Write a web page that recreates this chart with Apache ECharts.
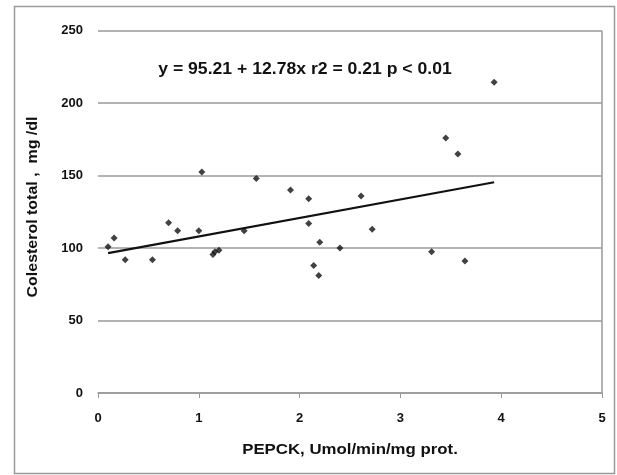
<!DOCTYPE html>
<html><head><meta charset="utf-8">
<script src="https://cdn.jsdelivr.net/npm/echarts@6/dist/echarts.min.js"></script>
<style>html,body{margin:0;padding:0;background:#fff}#c{width:617px;height:475px}</style>
</head><body><div id="c"></div>
<script>
var pepckX = [0.10,0.16,0.27,0.54,0.70,0.79,1.00,1.03,1.14,1.16,1.20,1.45,1.57,1.91,2.09,2.09,2.14,2.19,2.20,2.40,2.61,2.72,3.31,3.45,3.57,3.64,3.93];
var cholY  = [101,107,92,92,117.5,112,112,152.5,95.5,97.5,98.5,112,148,140,134,117,88,81,104,100,136,113,97.5,176,165,91,214.5];
var fitLine = [[0.10,96.5],[3.93,145.4]];
var xTicks = [0,1,2,3,4,5];
var yTicks = [0,50,100,150,200,250];
var equationText = 'y = 95.21 + 12.78x r2 = 0.21 p < 0.01';
var xTitle = 'PEPCK, Umol/min/mg prot.';
var yTitle = 'Colesterol total ,  mg /dl';

var pts = pepckX.map(function(x,i){return [x,cholY[i]];});
var chart = echarts.init(document.getElementById('c'), null, {renderer:'canvas'});
var F = 'Arial, "Liberation Sans", sans-serif';
chart.setOption({
  animation:false,
  backgroundColor:'#fff',
  grid:{left:98,top:30.7,width:504,height:362.3,show:false},
  graphic:[
    {type:'rect',shape:{x:14.5,y:6.5,width:600,height:467},style:{fill:'none',stroke:'#9a9a9a',lineWidth:1.5},z:-1},
    {type:'line',shape:{x1:602,y1:30.7,x2:602,y2:393},style:{stroke:'#999',lineWidth:1.5}},
    {type:'text',x:305,y:70,scaleX:1.1,style:{text:equationText,x:0,y:0,align:'center',verticalAlign:'middle',font:'bold 16px '+F,fill:'#111'}},
    {type:'text',x:350,y:450,scaleX:1.12,style:{text:xTitle,x:0,y:0,align:'center',verticalAlign:'middle',font:'bold 15px '+F,fill:'#111'}},
    {type:'text',rotation:Math.PI/2,x:33,y:207,scaleX:1.14,style:{text:yTitle,x:0,y:0,align:'center',verticalAlign:'middle',font:'bold 14px '+F,fill:'#111'}}
  ],
  xAxis:{type:'value',min:0,max:5,interval:1,
    axisLine:{show:true,lineStyle:{color:'#999',width:1.5}},
    axisTick:{show:true,length:5,lineStyle:{color:'#999'}},
    splitLine:{show:false},
    axisLabel:{margin:19,fontSize:13,fontWeight:'bold',color:'#111',fontFamily:F,
      formatter:function(v){return xTicks.indexOf(v)>=0?String(v):'';}}},
  yAxis:{type:'value',min:0,max:250,interval:50,
    axisLine:{show:false},axisTick:{show:false},
    splitLine:{show:true,lineStyle:{color:'#9a9a9a',width:1.5}},
    axisLabel:{margin:15,fontSize:13,fontWeight:'bold',color:'#111',fontFamily:F,
      formatter:function(v){return yTicks.indexOf(v)>=0?String(v):'';}}},
  series:[
    {type:'scatter',data:pts,symbol:'diamond',symbolSize:7,itemStyle:{color:'#111'},z:3},
    {type:'line',data:fitLine,showSymbol:false,symbol:'none',lineStyle:{color:'#111',width:2.2},z:2}
  ]
});
</script></body></html>
